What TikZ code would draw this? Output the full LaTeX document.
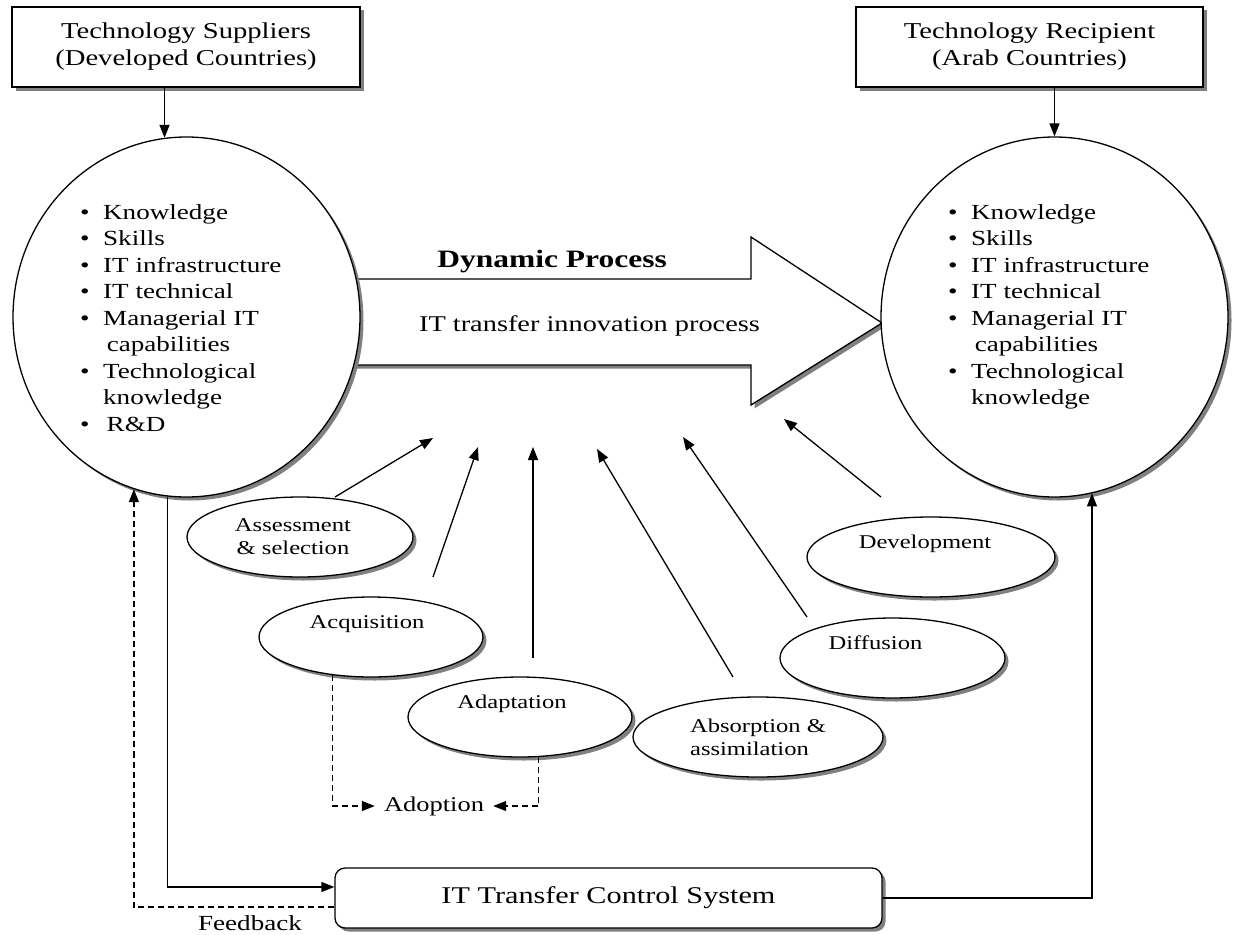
\documentclass[tikz,border=0pt]{standalone}
\usepackage{fontspec}
\setmainfont{Liberation Serif}[FakeStretch=1.26]
\usetikzlibrary{shapes.geometric,shadows,arrows.meta,calc}
\begin{document}
\begin{tikzpicture}[x=1pt,y=-1pt,
  shad/.style={drop shadow={shadow xshift=3.5pt,shadow yshift=-3.5pt,fill=black!50,opacity=1}},
  topbox/.style={draw,line width=1.3pt,fill=white,shad,minimum width=348pt,minimum height=80pt,inner sep=0pt,align=center,font=\fontsize{22.7}{27}\selectfont},
  bigell/.style={ellipse,draw,line width=1.3pt,fill=white,shad,minimum width=347pt,minimum height=360pt,inner sep=0pt},
  smallell/.style={ellipse,draw,line width=1.3pt,fill=white,shad,minimum height=80pt,inner sep=0pt,align=center,font=\fontsize{19.5}{23}\selectfont},
  listtxt/.style={anchor=base west,inner sep=0pt,font=\fontsize{21.5}{26.5}\selectfont},
  conn/.style={line width=1.3pt,-{Triangle[length=13pt,width=10pt]}},
  dconn/.style={conn,dash pattern=on 6pt off 4pt},
]
\useasboundingbox (0,0) rectangle (1233,934);

% big process arrow
\path[draw,line width=1.3pt,fill=white,shad] (340,279) -- (751,279) -- (751,237) -- (882,323) -- (751,405) -- (751,365) -- (340,365);

% top boxes
\node[topbox] (supbox) at (186,47) {Technology Suppliers\\(Developed Countries)};
\node[topbox,minimum width=347pt] (recbox) at (1029.5,47) {Technology Recipient\\(Arab Countries)};

% big ellipses
\node[bigell] (sup) at (186.5,317) {};
\node[bigell] (rec) at (1054.5,317) {};

\node[listtxt] (suplist) at (80,219) {\begin{tabular}[t]{@{}c@{\hspace{13.5pt}}l@{}}
\textbullet & Knowledge\\ \textbullet & Skills\\ \textbullet & IT infrastructure\\ \textbullet & IT technical\\ \textbullet & Managerial IT\\ & \,capabilities\\ \textbullet & Technological\\ & knowledge\\ \textbullet & \,R\&D
\end{tabular}};
\node[listtxt] (reclist) at (948,219) {\begin{tabular}[t]{@{}c@{\hspace{13.5pt}}l@{}}
\textbullet & Knowledge\\ \textbullet & Skills\\ \textbullet & IT infrastructure\\ \textbullet & IT technical\\ \textbullet & Managerial IT\\ & \,capabilities\\ \textbullet & Technological\\ & knowledge
\end{tabular}};

% arrow texts
\node[anchor=base,inner sep=0pt,font=\bfseries\fontsize{25}{30}\selectfont] (dyn) at (552,267) {Dynamic Process};
\node[anchor=base,inner sep=0pt,font=\fontsize{22.5}{27}\selectfont] (itp) at (589.5,331) {IT transfer innovation process};

% small ellipses
\node[smallell,minimum width=226pt] (assess) at (300,537) {Assessment\hspace*{14pt}\\\& selection\hspace*{14pt}};
\node[smallell,minimum width=224pt] (acq) at (371,637) {Acquisition\hspace*{8pt}\\\strut};
\node[smallell,minimum width=224pt] (adapt) at (520,717) {Adaptation\hspace*{16pt}\\\strut};
\node[smallell,minimum width=250pt,align=left] (absorb) at (758,737) {Absorption \&\\assimilation};
\node[smallell,minimum width=225pt] (diff) at (892.5,658) {Diffusion\hspace*{34pt}\\\strut};
\node[smallell,minimum width=248pt] (dev) at (931,557) {Development\hspace*{12pt}\\\strut};

% control system box
\node[draw,rounded corners=10pt,line width=1.3pt,fill=white,shad,minimum width=547pt,minimum height=60pt,inner sep=0pt,font=\fontsize{24}{28}\selectfont] (ctrl) at (608.5,898) {IT Transfer Control System};

\node[inner xsep=9pt,inner ysep=2pt,font=\fontsize{21}{25}\selectfont] (adopt) at (434,806) {Adoption};
\node[anchor=base,inner sep=0pt,font=\fontsize{21.5}{25}\selectfont] (fb) at (250,930) {Feedback};

% free-end coordinates of the contributing arrows
\coordinate (a1s) at (335,497); \coordinate (a1e) at (433,438);
\coordinate (a2s) at (433,577); \coordinate (a2e) at (478,447);
\coordinate (a3s) at (533,658); \coordinate (a3e) at (533,447);
\coordinate (a4s) at (733,677); \coordinate (a4e) at (597,449);
\coordinate (a5s) at (807,617); \coordinate (a5e) at (683,437);
\coordinate (a6s) at (881,497); \coordinate (a6e) at (784,419);
\draw[conn] (a1s) -- (a1e);
\draw[conn] (a2s) -- (a2e);
\draw[conn] (a3s) -- (a3e);
\draw[conn] (a4s) -- (a4e);
\draw[conn] (a5s) -- (a5e);
\draw[conn] (a6s) -- (a6e);

% box to ellipse
\draw[conn] (supbox.south -| sup.97.8) -- (sup.97.8);
\draw[conn] (recbox.south -| rec.north) -- (rec.north);

% control loop
\draw[conn] (sup.264.4) |- ($(ctrl.west)+(0,-11)$);
\draw[dconn] ($(ctrl.west)+(0,9)$) -| (sup.253.3);
\draw[conn] (ctrl.east) -| (rec.282);

% adoption
\draw[dconn] (acq.225) |- (adopt.west);
\draw[dconn] (adapt.295) |- (adopt.east);
\end{tikzpicture}
\end{document}
